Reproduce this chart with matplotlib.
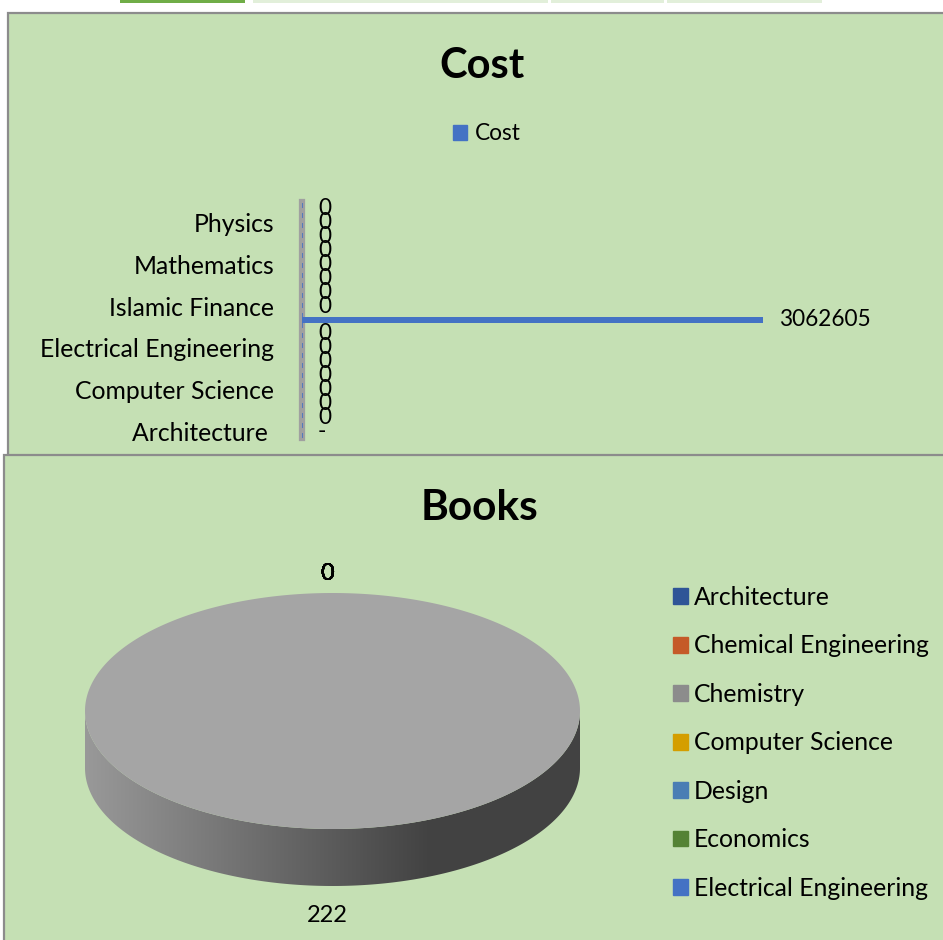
import numpy as np
import matplotlib
matplotlib.use("Agg")
import matplotlib.pyplot as plt
from matplotlib.patches import Rectangle, Polygon, Patch

# ---------------- data ----------------
categories = ["Architecture", "Chemical Engineering", "Chemistry", "Computer Science",
              "Design", "Economics", "Electrical Engineering", "English", "General",
              "Islamic Finance", "Law", "Management", "Mathematics",
              "Mechanical Engineering", "Petroleum Engineering", "Physics", "Statistics"]
cost = [None, 0, 0, 0, 0, 0, 0, 0, 3062605, 0, 0, 0, 0, 0, 0, 0, 0]
cost_tick_labels = ["Architecture ", "", "", "Computer Science", "", "",
                    "Electrical Engineering", "", "", "Islamic Finance", "", "",
                    "Mathematics", "", "", "Physics", ""]
books = [0, 0, 222, 0, 0, 0, 0, 0, 0, 0, 0, 0, 0, 0, 0, 0, 0]
legend_categories = categories[:7]
legend_colors = ["#2F5597", "#C55A28", "#8C8C8C", "#D49E00", "#4A7EB4", "#548235", "#4472C4"]
slice_colors = ["#4472C4", "#ED7D31", "#A5A5A5", "#FFC000", "#5B9BD5", "#70AD47",
                "#264478", "#9E480E", "#636363", "#997300", "#255E91", "#43682B",
                "#698ED0", "#F1975A", "#B7B7B7", "#FFCD33", "#7CAFDD"]

FONT = "Lato"
BG = "#C5E0B4"
EDGE = "#8C8C8C"
W, H = 943, 940

fig = plt.figure(figsize=(W / 100, H / 100), dpi=100)
fig.patch.set_facecolor("white")

bg = fig.add_axes([0, 0, 1, 1])
bg.axis("off")

# tabs at top (Excel UI)
bg.add_patch(Rectangle((120, 0), 125, 3, fc="#70AD47", ec="none"))
for x0, x1 in [(253, 548), (551, 664), (667, 822)]:
    bg.add_patch(Rectangle((x0, 0), x1 - x0, 3, fc="#E2EFDA", ec="none"))

# chart frames
bg.add_patch(Rectangle((7.5, 12.5), 960, 460, fc=BG, ec=EDGE, lw=1.6, zorder=1))
bg.add_patch(Rectangle((3.5, 455), 960, 500, fc=BG, ec=EDGE, lw=1.6, zorder=2))

# titles
bg.text(482, 66, "Cost", ha="center", va="center", fontsize=30, fontweight="bold",
        family=FONT, zorder=5)
bg.text(480, 508, "Books", ha="center", va="center", fontsize=30.5, fontweight="bold",
        family=FONT, zorder=5)

# ---------------- bar chart ----------------
ax = fig.add_axes([302 / W, 1 - 438 / H, 602 / W, 236 / H])
ax.patch.set_visible(False)
ypos = np.arange(len(categories))
vals = [0 if v is None else v for v in cost]
ax.barh(ypos, vals, height=0.45, color="#4472C4", zorder=3)
ax.set_xlim(0, 4.0e6)
ax.set_ylim(-0.5, len(categories) - 0.5)
for s in ["top", "right", "bottom"]:
    ax.spines[s].set_visible(False)
ax.spines["left"].set_color("#A0A0A0")
ax.spines["left"].set_linewidth(4.5)
ax.axvline(0, color="#4472C4", lw=1.2, ls=(0, (3, 3)), zorder=4)
ax.set_xticks([])
ax.set_yticks(ypos)
ax.set_yticklabels(cost_tick_labels, family=FONT, fontsize=17.8)
ax.tick_params(axis="y", length=0, pad=20)
for i, v in enumerate(cost):
    txt = "-" if v is None else str(v)
    ax.annotate(txt, (0 if v is None else v, i), xytext=(16, 0),
                textcoords="offset pixels", ha="left", va="center",
                fontsize=16.3, family=FONT, zorder=5)

fig.legend(handles=[Patch(color="#4472C4")], labels=["Cost"], loc="center",
           bbox_to_anchor=(487 / W, 1 - 134 / H), frameon=False,
           prop={"family": FONT, "size": 16.3}, handlelength=0.62, handleheight=0.62,
           handletextpad=0.35)

# ---------------- 3D pie ----------------
cx, cy, rx, ry, depth = 332.5, 711, 247.5, 118, 57
total = float(sum(books))
fracs = np.array(books, dtype=float) / total
ends = np.cumsum(fracs) * 2 * np.pi
starts = ends - fracs * 2 * np.pi


def ell(t, dy=0.0):
    return cx + rx * np.sin(t), cy - ry * np.cos(t) + dy


# side faces
for i, (t1, t2) in enumerate(zip(starts, ends)):
    if books[i] <= 0:
        continue
    a, b = max(t1, np.pi / 2), min(t2, 3 * np.pi / 2)
    if b <= a:
        continue
    ts = np.linspace(a, b, 300)
    xt, yt = ell(ts)
    xb, yb = ell(ts[::-1], depth)
    poly = Polygon(np.column_stack([np.r_[xt, xb], np.r_[yt, yb]]), closed=True,
                   fc="none", ec="none", zorder=3)
    bg.add_patch(poly)
    xs = np.linspace(cx - rx, cx + rx, 500)
    g = np.interp(xs, [cx - rx, 430, cx + rx], [0.60, 0.26, 0.26])
    rgb = np.stack([g, g, g], -1)[None, :, :]
    im = bg.imshow(rgb, extent=[cx - rx, cx + rx, cy + ry + depth + 5, cy - 5],
                   aspect="auto", interpolation="bilinear", zorder=3)
    im.set_clip_path(poly)

# top faces
for i, (t1, t2) in enumerate(zip(starts, ends)):
    if books[i] <= 0:
        continue
    ts = np.linspace(t1, t2, 400)
    xt, yt = ell(ts)
    if t2 - t1 < 2 * np.pi - 1e-9:
        xt, yt = np.r_[cx, xt], np.r_[cy, yt]
    bg.add_patch(Polygon(np.column_stack([xt, yt]), closed=True,
                         fc=slice_colors[i], ec="none", zorder=4))

# data labels
d = 24.5
for i, (t1, t2) in enumerate(zip(starts, ends)):
    tm = 0.5 * (t1 + t2)
    lx = cx + (rx + d) * np.sin(tm) - 5
    ly = cy - (ry + d) * np.cos(tm) + depth * max(0.0, -np.cos(tm)) + 4.5
    bg.text(lx, ly, str(books[i]), ha="center", va="center", fontsize=17,
            family=FONT, zorder=6)

fig.legend(handles=[Patch(color=c) for c in legend_colors], labels=legend_categories,
           loc="upper left", bbox_to_anchor=(673 / W, 1 - 586 / H), frameon=False,
           prop={"family": FONT, "size": 17.8}, handlelength=0.6, handleheight=0.6,
           handletextpad=0.25, labelspacing=1.03, borderpad=0, borderaxespad=0)

bg.set_xlim(0, W)
bg.set_ylim(H, 0)

fig.savefig("out.png", dpi=100, facecolor="white")
